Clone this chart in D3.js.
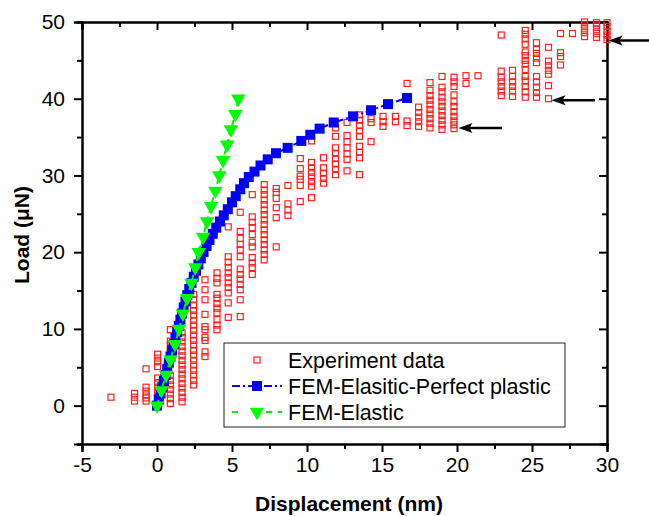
<!DOCTYPE html>
<html>
<head>
<meta charset="utf-8">
<script src="https://cdn.jsdelivr.net/npm/d3@7"></script>
<style>
  body { margin: 0; background: #fff; }
  text { font-family: "Liberation Sans", Arial, sans-serif; }
</style>
</head>
<body>
<svg id="chart" width="649" height="516"></svg>
<script>
// experiment data: displacement columns and the loads measured at each
const expDisp = [-3.07, -1.5, -0.73, 0.04, 0.89, 1.67, 2.44, 3.2, 4.0, 4.75, 5.55, 6.35, 7.15, 7.95, 8.73,
  9.55, 10.3, 11.1, 11.9, 12.67, 13.5, 14.27, 15.07, 15.9, 16.67, 17.44, 18.2, 19.0, 19.8, 20.6, 21.4,
  22.95, 23.7, 24.55, 25.3, 26.1, 26.9, 27.7, 28.5, 29.3, 30.0]
const expLoad = [
  [1.1],
  [0.6, 1.1, 1.6],
  [0.6, 1.0, 1.4, 1.9, 2.4, 4.8],
  [1.2, 1.8, 2.4, 3.0, 3.6, 5.1, 5.7, 6.2, 6.7],
  [0.3, 0.9, 1.5, 2.1, 2.7, 3.3, 3.9, 6.9, 7.4, 7.9, 8.4, 9.9],
  [0.5, 1.1, 1.7, 2.3, 2.9, 3.5, 4.1, 4.7, 5.3, 5.9, 6.5, 7.1, 7.7, 8.3, 8.9, 9.5],
  [2.7, 3.3, 4.0, 4.6, 5.3, 5.9, 6.6, 7.2, 7.9, 8.5, 9.2, 9.8, 10.5, 11.1, 11.8, 12.4, 13.1, 13.8, 14.5],
  [6.4, 7.0, 8.5, 8.9, 9.9, 10.3, 11.9, 13.8, 15.1, 16.4],
  [9.9, 10.5, 11.2, 12.1, 12.7, 13.3, 14.0, 14.5, 16.0, 16.6, 17.3],
  [11.5, 13.4, 14.7, 15.4, 16.0, 16.7, 17.3, 18.0, 18.7, 19.4, 23.3],
  [11.6, 13.8, 15.1, 15.8, 16.5, 17.1, 17.8, 19.4, 20.3, 21.0, 21.8, 22.7, 25.2],
  [17.1, 18.0, 18.6, 19.3, 20.7, 21.3, 22.3, 23.2, 23.9, 24.6, 27.5],
  [19.0, 19.7, 20.3, 21.0, 21.6, 22.3, 22.9, 23.6, 24.2, 24.9, 25.5, 26.2, 26.8, 27.5, 28.1, 28.8],
  [20.7, 24.5, 25.8, 27.0, 27.8, 28.3],
  [24.8, 25.5, 26.3, 28.7],
  [26.6, 28.7, 29.5, 29.9, 30.9, 32.2],
  [27.1, 28.6, 29.2, 29.8, 30.4, 31.0, 31.7, 34.5],
  [29.0, 29.6, 30.3, 31.0, 32.3],
  [30.1, 30.8, 31.5, 32.2, 32.9, 33.6, 35.1, 36.2],
  [30.6, 32.1, 32.8, 33.6, 34.4, 35.2, 36.9],
  [30.1, 32.3, 33.0, 33.8, 35.1, 35.8, 36.5, 37.2, 37.9],
  [34.4, 36.9, 37.4],
  [36.4, 37.0, 37.7],
  [37.0, 37.7],
  [36.5, 37.1, 42.0],
  [36.4, 37.0, 37.6, 38.2, 38.9],
  [36.2, 36.8, 37.4, 38.0, 38.6, 39.2, 39.8, 40.4, 41.1, 42.1],
  [36.0, 36.6, 37.2, 37.8, 38.4, 39.0, 39.6, 40.2, 40.9, 41.5, 42.9],
  [36.1, 36.6, 37.1, 37.7, 38.3, 39.0, 39.6, 40.5, 41.6, 42.2, 42.8],
  [42.0, 43.0],
  [43.0],
  [40.4, 41.0, 41.6, 42.2, 42.8, 43.6, 48.3],
  [40.3, 41.0, 41.6, 42.2, 42.9, 43.7],
  [40.2, 40.9, 41.6, 42.3, 42.9, 43.8, 44.5, 45.0, 45.6, 46.1, 47.1, 47.8, 48.4, 48.9],
  [40.2, 40.8, 41.5, 42.2, 42.9, 44.7, 45.3, 45.9, 46.4, 47.3],
  [40.0, 41.7, 43.2, 43.7, 44.3, 44.9, 46.7],
  [44.4, 45.5, 46.0, 48.5],
  [48.5],
  [48.1, 48.6, 49.1, 49.6, 50.0],
  [48.0, 48.5, 49.0, 49.5, 49.9],
  [47.7, 48.3, 48.8, 49.4, 49.9]
]

// FEM elastic-perfect plastic
const eppDisp = [0, 0.12, 0.24, 0.35, 0.46, 0.57, 0.68, 0.79, 0.9, 1.01, 1.12, 1.23, 1.34, 1.45, 1.56, 1.67,
  1.78, 1.9, 2.02, 2.15, 2.3, 2.45, 2.6, 2.76, 2.92, 3.1, 3.3, 3.5, 3.72, 3.95, 4.2, 4.45, 4.72, 5.0, 5.25,
  5.55, 5.8, 6.12, 6.5, 6.9, 7.38, 7.93, 8.71, 9.62, 10.22, 10.84, 11.78, 13.07, 14.27, 15.4, 16.67]
const eppLoad = [0, 0.8, 1.6, 2.4, 3.2, 4.0, 4.8, 5.6, 6.4, 7.2, 8.0, 8.8, 9.6, 10.4, 11.2, 12.0,
  12.8, 13.6, 14.4, 15.2, 16.0, 16.8, 17.6, 18.4, 19.2, 20.0, 20.8, 21.6, 22.4, 23.2, 24.0, 24.8, 25.6, 26.5, 27.3,
  28.2, 29.0, 29.8, 30.5, 31.3, 32.1, 32.9, 33.6, 34.5, 35.3, 36.1, 36.9, 37.7, 38.5, 39.3, 40.1]

// FEM elastic
const elDisp = [0, 0.29, 0.6, 0.89, 1.2, 1.47, 1.73, 2.0, 2.29, 2.55, 2.78, 3.07, 3.33, 3.6, 3.89, 4.15, 4.4,
  4.67, 4.93, 5.22, 5.42]
const elLoad = [0, 2, 4, 6, 8, 10, 12, 14, 16, 18, 20, 22, 24, 26, 28, 30, 32, 34, 36, 38, 40]

// arrows: [load, fromDisp, toDisp]
const arrows = [[47.6, 33, 30.1], [39.8, 29.2, 26.3], [36.2, 23.0, 20.1]]

const legendLabels = ['Experiment data', 'FEM-Elasitic-Perfect plastic', 'FEM-Elastic']

const width = 649
const height = 516
const margin = { top: 22, right: 42, bottom: 72, left: 82 }
const svg = d3.select('#chart')

const x = d3.scaleLinear().domain([-5, 30]).range([margin.left, width - margin.right])
const y = d3.scaleLinear().domain([-5, 50]).range([height - margin.bottom, margin.top])

const font = 21

// axes
const xMajor = [-5, 0, 5, 10, 15, 20, 25, 30]
const xMinor = [-2.5, 2.5, 7.5, 12.5, 17.5, 22.5, 27.5]
const yMajor = [0, 10, 20, 30, 40, 50]
const yMinor = [-5, 5, 15, 25, 35, 45]

const axisG = svg.append('g')

const addAxis = (axis, tx, ty) => {
  const g = axisG.append('g').attr('transform', `translate(${tx},${ty})`).call(axis)
  g.select('.domain').attr('stroke-width', 2)
  g.selectAll('.tick line').attr('stroke-width', 2)
  g.selectAll('text').attr('font-size', font).attr('font-family', '"Liberation Sans", Arial, sans-serif')
  return g
}

addAxis(d3.axisBottom(x).tickValues(xMajor).tickSize(8).tickPadding(5).tickFormat(d => d < 0 ? '-' + (-d) : d),
  0, height - margin.bottom)
addAxis(d3.axisBottom(x).tickValues(xMinor).tickSize(5).tickFormat(''), 0, height - margin.bottom)
addAxis(d3.axisTop(x).tickValues(xMajor).tickSize(-8).tickFormat(''), 0, margin.top)
addAxis(d3.axisTop(x).tickValues(xMinor).tickSize(-5).tickFormat(''), 0, margin.top)
addAxis(d3.axisLeft(y).tickValues(yMajor).tickSize(8).tickPadding(9), margin.left, 0)
addAxis(d3.axisLeft(y).tickValues(yMinor).tickSize(5).tickFormat(''), margin.left, 0)
addAxis(d3.axisRight(y).tickValues(yMajor).tickSize(-8).tickFormat(''), width - margin.right, 0)
addAxis(d3.axisRight(y).tickValues(yMinor).tickSize(-5).tickFormat(''), width - margin.right, 0)

// experiment points
const expPoints = []
expDisp.forEach((d, i) => {
  expLoad[i].forEach(l => expPoints.push([d, l]))
})

svg.append('g')
  .selectAll('rect')
  .data(expPoints)
  .join('rect')
  .attr('x', d => x(d[0]) - 3)
  .attr('y', d => y(d[1]) - 3)
  .attr('width', 6)
  .attr('height', 6)
  .attr('fill', 'none')
  .attr('stroke', '#ff2020')
  .attr('stroke-width', 1.2)

const line = d3.line().x(d => x(d[0])).y(d => y(d[1]))

// elastic-perfect plastic
const epp = eppDisp.map((d, i) => [d, eppLoad[i]])
svg.append('path')
  .attr('d', line(epp))
  .attr('fill', 'none')
  .attr('stroke', '#0000ff')
  .attr('stroke-width', 2)
  .attr('stroke-dasharray', '8,3,2,3')
svg.append('g')
  .selectAll('rect')
  .data(epp)
  .join('rect')
  .attr('x', d => x(d[0]) - 5)
  .attr('y', d => y(d[1]) - 5)
  .attr('width', 10)
  .attr('height', 10)
  .attr('fill', '#0000ff')

// elastic
const el = elDisp.map((d, i) => [d, elLoad[i]])
const tri = d3.symbol().type(d3.symbolTriangle).size(90)
svg.append('path')
  .attr('d', line(el))
  .attr('fill', 'none')
  .attr('stroke', '#00ee00')
  .attr('stroke-width', 2)
  .attr('stroke-dasharray', '6,4')
svg.append('g')
  .selectAll('path')
  .data(el)
  .join('path')
  .attr('d', tri)
  .attr('transform', d => `translate(${x(d[0])},${y(d[1])}) rotate(180)`)
  .attr('fill', '#00ff00')

// arrows
const arrowG = svg.append('g')
arrows.forEach(a => {
  const y0 = y(a[0])
  const x0 = x(a[1])
  const x1 = x(a[2])
  arrowG.append('line')
    .attr('x1', x0).attr('x2', x1 + 10)
    .attr('y1', y0).attr('y2', y0)
    .attr('stroke', '#000')
    .attr('stroke-width', 2.5)
  arrowG.append('path')
    .attr('d', `M${x1},${y0} L${x1 + 14},${y0 - 5} L${x1 + 11},${y0} L${x1 + 14},${y0 + 5} Z`)
    .attr('fill', '#000')
})

// legend
const lg = svg.append('g').attr('transform', 'translate(224,343)')
lg.append('rect')
  .attr('width', 341)
  .attr('height', 84)
  .attr('fill', '#fff')
  .attr('stroke', '#222')
  .attr('stroke-width', 1)

const rowY = [17, 43, 69]
lg.append('rect')
  .attr('x', 30).attr('y', rowY[0] - 3)
  .attr('width', 6).attr('height', 6)
  .attr('fill', 'none').attr('stroke', '#ff2020').attr('stroke-width', 1.2)

lg.append('line')
  .attr('x1', 8).attr('x2', 58).attr('y1', rowY[1]).attr('y2', rowY[1])
  .attr('stroke', '#0000ff').attr('stroke-width', 2).attr('stroke-dasharray', '8,3,2,3')
lg.append('rect')
  .attr('x', 28).attr('y', rowY[1] - 5).attr('width', 10).attr('height', 10)
  .attr('fill', '#0000ff')

lg.append('line')
  .attr('x1', 8).attr('x2', 58).attr('y1', rowY[2]).attr('y2', rowY[2])
  .attr('stroke', '#00ee00').attr('stroke-width', 2).attr('stroke-dasharray', '6,10,0,18,6')
lg.append('path')
  .attr('d', tri)
  .attr('transform', `translate(33,${rowY[2]}) rotate(180)`)
  .attr('fill', '#00ff00')

lg.selectAll('text.lab')
  .data(legendLabels)
  .join('text')
  .attr('class', 'lab')
  .attr('x', 64)
  .attr('y', (d, i) => rowY[i])
  .attr('dy', '0.35em')
  .attr('font-size', 21.5)
  .text(d => d)

// axis titles
svg.append('text')
  .attr('x', 349)
  .attr('y', 511)
  .attr('text-anchor', 'middle')
  .attr('font-size', 21)
  .attr('font-weight', 'bold')
  .text('Displacement (nm)')

svg.append('text')
  .attr('transform', 'translate(29,235) rotate(-90)')
  .attr('text-anchor', 'middle')
  .attr('font-size', 21)
  .attr('font-weight', 'bold')
  .text('Load (μN)')
</script>
</body>
</html>
